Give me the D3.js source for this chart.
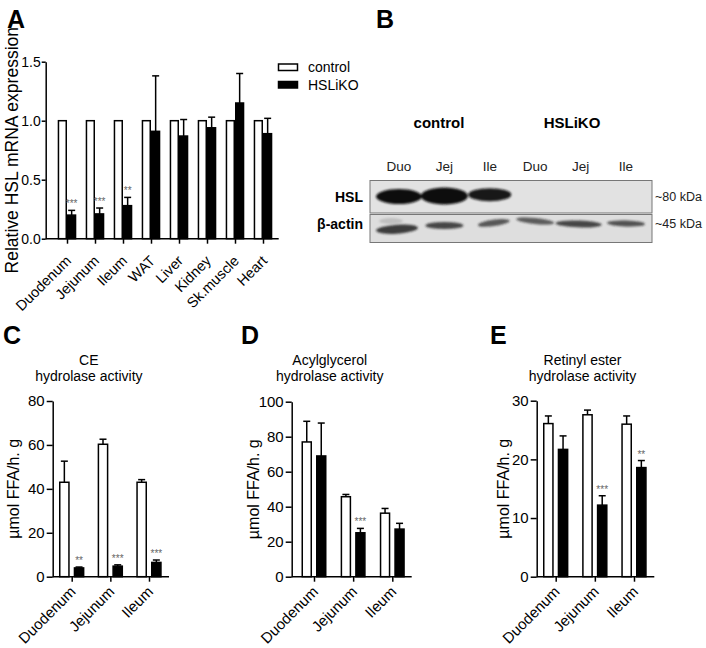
<!DOCTYPE html>
<html><head><meta charset="utf-8">
<script src="https://cdn.jsdelivr.net/npm/d3@7"></script>
<style>
body{margin:0;background:#fff}
svg{font-family:"Liberation Sans",Arial,Helvetica,sans-serif;display:block}
</style>
</head><body>
<svg id="c" width="706" height="648"></svg>
<script>
// ---------- DATA ----------
// Panel A: relative HSL mRNA expression
const tissues = ["Duodenum","Jejunum","Ileum","WAT","Liver","Kidney","Sk.muscle","Heart"];
const aControl = [1,1,1,1,1,1,1,1];
const aControlErr = [0,0,0,0,0,0,0,0];
const aKO = [0.20,0.21,0.28,0.91,0.87,0.94,1.15,0.89];
const aKOErr = [0.04,0.05,0.07,0.47,0.14,0.09,0.25,0.13];
const aStars = ["***","***","**","","","","",""];
const aTicks = [0,0.5,1.0,1.5];
const legendLabels = ["control","HSLiKO"];

// Panel B: western blot
const laneLabels = ["Duo","Jej","Ile","Duo","Jej","Ile"];
const groupLabels = ["control","HSLiKO"];
const blotRows = ["HSL","β-actin"];
const kdaLabels = ["~80 kDa","~45 kDa"];
const hslIntensity = [1,1,0.95,0,0,0];
const actinIntensity = [0.85,0.8,0.72,0.7,0.8,0.75];

// Panels C-E
const segments = ["Duodenum","Jejunum","Ileum"];
const ceControl = [43,60.3,43];
const ceControlErr = [9.6,2.3,1.2];
const ceKO = [4.0,4.8,6.5];
const ceKOErr = [0.4,0.6,1.1];
const ceStars = ["**","***","***"];
const ceTicks = [0,20,40,60,80];

const agControl = [77,45.7,36.3];
const agControlErr = [11.8,1.3,2.7];
const agKO = [69,25.1,27.2];
const agKOErr = [18.8,2.5,3.3];
const agStars = ["","***",""];
const agTicks = [0,20,40,60,80,100];

const reControl = [26.1,27.6,26.0];
const reControlErr = [1.3,0.8,1.4];
const reKO = [21.7,12.2,18.6];
const reKOErr = [2.3,1.6,1.2];
const reStars = ["","***","**"];
const reTicks = [0,10,20,30];

// ---------- DRAWING ----------
const svg = d3.select("#c");

function barPanel(cfg){
  const g = svg.append("g");
  const y = d3.scaleLinear().domain([0, d3.max(cfg.ticks)]).range(cfg.yRange);
  const x = d3.scalePoint().domain(cfg.cats).range(cfg.centers);
  const y0 = y(0);
  const bw = cfg.barW, gap = cfg.gap, cap = cfg.cap;
  const rows = cfg.cats.map((c,i)=>({c,i}));
  const series = [
    {vals:cfg.ctrl, errs:cfg.ctrlErr, fill:"#fff", off:-gap-bw},
    {vals:cfg.ko, errs:cfg.koErr, fill:"#000", off:gap}
  ];
  series.forEach(s=>{
    rows.forEach(r=>{
      const e = s.errs[r.i];
      if(!e) return;
      const cx = x(r.c)+s.off+bw/2;
      g.append("line").attr("x1",cx).attr("x2",cx)
        .attr("y1",y(s.vals[r.i])).attr("y2",y(s.vals[r.i]+e))
        .attr("stroke","#000").attr("stroke-width",1.5);
      g.append("line").attr("x1",cx-cap/2).attr("x2",cx+cap/2)
        .attr("y1",y(s.vals[r.i]+e)).attr("y2",y(s.vals[r.i]+e))
        .attr("stroke","#000").attr("stroke-width",1.5);
    });
    g.selectAll(null).data(rows).enter().append("rect")
      .attr("x",d=>x(d.c)+s.off+0.75)
      .attr("width",bw-1.5)
      .attr("y",d=>y(s.vals[d.i]))
      .attr("height",d=>y0-y(s.vals[d.i]))
      .attr("fill",s.fill).attr("stroke","#000").attr("stroke-width",1.5);
  });
  rows.forEach(r=>{
    const st = cfg.stars[r.i];
    if(!st) return;
    g.append("text").attr("x",x(r.c)+gap+bw/2)
      .attr("y",y(cfg.ko[r.i]+cfg.koErr[r.i])-3)
      .attr("text-anchor","middle").attr("font-size",10).attr("fill","#666")
      .text(st);
  });
  const ya = g.append("g").attr("transform",`translate(${cfg.axisX[0]},0)`)
    .call(d3.axisLeft(y).tickValues(cfg.ticks).tickFormat(d3.format(cfg.fmt))
      .tickSize(cfg.tickSize).tickSizeOuter(0).tickPadding(cfg.tickPad));
  ya.select(".domain").attr("stroke-width",1.5);
  ya.selectAll(".tick line").attr("stroke-width",1.5);
  ya.selectAll("text").attr("font-size",cfg.tickFont).attr("fill","#000")
    .style("font-family",'"Liberation Sans",Arial,sans-serif');
  const xa = g.append("g").attr("transform",`translate(0,${y0})`)
    .call(d3.axisBottom(x).tickSize(5).tickSizeOuter(0).tickFormat(""));
  xa.select(".domain").remove();
  xa.selectAll(".tick line").attr("stroke-width",1.5);
  g.append("line").attr("x1",cfg.axisX[0]).attr("x2",cfg.axisX[1])
    .attr("y1",y0).attr("y2",y0).attr("stroke","#000").attr("stroke-width",1.5);
  g.selectAll(null).data(cfg.cats).enter().append("text")
    .attr("transform",d=>`translate(${x(d)+cfg.lblDx},${y0+cfg.lblDy}) rotate(-45)`)
    .attr("text-anchor","end").attr("font-size",cfg.lblFont).text(d=>d);
  g.append("text")
    .attr("transform",`translate(${cfg.titleX},${(cfg.yRange[0]+cfg.yRange[1])/2}) rotate(-90)`)
    .attr("text-anchor","middle").attr("font-size",cfg.titleFont).text(cfg.yTitle);
  if(cfg.header){
    cfg.header.forEach((t,k)=>{
      g.append("text").attr("x",(cfg.axisX[0]+cfg.axisX[1])/2+cfg.headerDx)
        .attr("y",365+k*16).attr("text-anchor","middle").attr("font-size",14).text(t);
    });
  }
  return {g,x,y};
}

// Panel A
barPanel({cats:tissues, ctrl:aControl, ctrlErr:aControlErr, ko:aKO, koErr:aKOErr,
  stars:aStars, ticks:aTicks, yRange:[238.7,61.7], centers:[67,263], axisX:[45.7,278.7],
  barW:9.3, gap:0, cap:7, fmt:".1f", tickFont:14, tickSize:4, tickPad:1, lblFont:14.5, lblDx:5, lblDy:23,
  titleX:18, titleFont:17.5, yTitle:"Relative HSL mRNA expression"});

// Legend A
legendLabels.forEach((l,i)=>{
  const yy = [64,81.5][i];
  svg.append("rect").attr("x",278.5).attr("y",yy).attr("width",19).attr("height",6.5)
    .attr("fill",i===0?"#fff":"#000").attr("stroke","#000").attr("stroke-width",1.5);
  svg.append("text").attr("x",308).attr("y",yy+8).attr("font-size",14).text(l);
});

// Panels C, D, E
barPanel({cats:segments, ctrl:ceControl, ctrlErr:ceControlErr, ko:ceKO, koErr:ceKOErr,
  stars:ceStars, ticks:ceTicks, yRange:[576.7,401], centers:[71.7,149], axisX:[52.7,169],
  barW:10.7, gap:2, cap:7, fmt:"d", tickFont:15, tickSize:6, tickPad:2, lblFont:15, lblDx:5, lblDy:16,
  titleX:19, titleFont:16, yTitle:"µmol FFA/h. g", header:["CE","hydrolase activity"], headerDx:-22});
barPanel({cats:segments, ctrl:agControl, ctrlErr:agControlErr, ko:agKO, koErr:agKOErr,
  stars:agStars, ticks:agTicks, yRange:[576.7,401.7], centers:[314,392.3], axisX:[291.7,411.7],
  barW:10.5, gap:2, cap:7, fmt:"d", tickFont:15, tickSize:6, tickPad:2, lblFont:15, lblDx:5, lblDy:16,
  titleX:259, titleFont:16, yTitle:"µmol FFA/h. g", header:["Acylglycerol","hydrolase activity"], headerDx:-22});
barPanel({cats:segments, ctrl:reControl, ctrlErr:reControlErr, ko:reKO, koErr:reKOErr,
  stars:reStars, ticks:reTicks, yRange:[576.7,400.7], centers:[555.7,634], axisX:[536.7,654.3],
  barW:10.7, gap:2, cap:7, fmt:"d", tickFont:15, tickSize:6, tickPad:2, lblFont:15, lblDx:5, lblDy:16,
  titleX:509, titleFont:16, yTitle:"µmol FFA/h. g", header:["Retinyl ester","hydrolase activity"], headerDx:-13});

// Panel B: blot
const defs = svg.append("defs");
defs.append("filter").attr("id","blur").attr("x","-20%").attr("y","-50%").attr("width","140%").attr("height","200%")
  .append("feGaussianBlur").attr("stdDeviation",1.2);
const lane = d3.scalePoint().domain(d3.range(laneLabels.length)).range([399,626]);
const B = svg.append("g");
B.append("rect").attr("x",370).attr("y",180.5).attr("width",282).attr("height",32.5)
  .attr("fill","#e2e2e2").attr("stroke","#777").attr("stroke-width",1);
B.append("rect").attr("x",370).attr("y",214.5).attr("width",282).attr("height",28)
  .attr("fill","#dedede").attr("stroke","#777").attr("stroke-width",1);
const bands = B.append("g").attr("filter","url(#blur)");
hslIntensity.forEach((v,i)=>{
  if(v<=0) return;
  bands.append("ellipse").attr("cx",lane(i)).attr("cy",[196.5,196,194.7][i])
    .attr("rx",[23,23.5,21.5][i]).attr("ry",[7.5,8.5,6.5][i])
    .attr("fill","#111").attr("opacity",v);
});
const actY = [229,225.5,223.5,221,224,223.5];
const actRx = [21,19,16,19,23,19];
const actRy = [4.5,3.6,3.2,3,3.4,3];
const actRot = [-4,0,-8,6,2,2];
actinIntensity.forEach((v,i)=>{
  bands.append("ellipse").attr("cx",lane(i)+[-2,0,4,0,-2,0][i]).attr("cy",actY[i])
    .attr("rx",actRx[i]).attr("ry",actRy[i])
    .attr("transform",`rotate(${actRot[i]},${lane(i)},${actY[i]})`)
    .attr("fill","#222").attr("opacity",v);
});
bands.append("ellipse").attr("cx",lane(0)-8).attr("cy",221).attr("rx",12).attr("ry",3)
  .attr("fill","#888").attr("opacity",0.35);

B.selectAll(null).data(laneLabels).enter().append("text")
  .attr("x",(d,i)=>lane(i)).attr("y",171).attr("text-anchor","middle")
  .attr("font-size",13.5).attr("fill","#222").text(d=>d);
groupLabels.forEach((t,k)=>{
  B.append("text").attr("x",[439,572][k]).attr("y",128).attr("text-anchor","middle")
    .attr("font-size",15).attr("font-weight","bold").text(t);
});
blotRows.forEach((t,k)=>{
  B.append("text").attr("x",363).attr("y",[202,229][k]).attr("text-anchor","end")
    .attr("font-size",14).attr("font-weight","bold").text(t);
});
kdaLabels.forEach((t,k)=>{
  B.append("text").attr("x",655).attr("y",[200.5,227.5][k])
    .attr("font-size",12.5).attr("fill","#222").text(t);
});

// Panel letters
[["A",7,28],["B",376,28],["C",3,344],["D",241,344],["E",490,344]].forEach(([t,x,y])=>{
  svg.append("text").attr("x",x).attr("y",y).attr("font-size",25).attr("font-weight","bold").text(t);
});
</script>
</body></html>
